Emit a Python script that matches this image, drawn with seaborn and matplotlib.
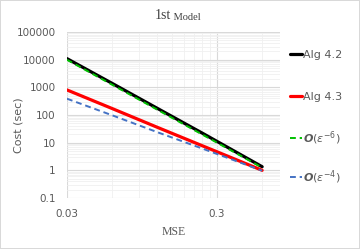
import numpy as np
import pandas as pd
import matplotlib
matplotlib.use('Agg')
import matplotlib.pyplot as plt
import matplotlib.ticker as mticker
import seaborn as sns

# values
mse = [0.03, 0.06, 0.12, 0.24, 0.6]
alg42 = [11000, 1400, 175, 22, 1.35]
alg43 = [810, 172, 36, 7.7, 1.0]
ref6 = [10000, 1250, 156, 19.5, 1.25]
ref4 = [390, 98, 24, 6.1, 0.97]

labels = ['Alg 4.2', 'Alg 4.3', r'$\mathbfit{O}(\epsilon^{-6})$', r'$\mathbfit{O}(\epsilon^{-4})$']
colors = ['black', '#ff0000', '#00c000', '#4472c4']
widths = [2.3, 2.3, 1.4, 1.4]
dashed = [False, False, True, True]

xticks = [0.03, 0.3]
yticks = [0.1, 1, 10, 100, 1000, 10000, 100000]

sns.set_style('white')
plt.rcParams['font.family'] = ['DejaVu Sans']
grey = '#595959'

fig = plt.figure(figsize=(3.6, 2.49), dpi=100, edgecolor='#d9d9d9', linewidth=1.2)
ax = fig.add_axes([0.186, 0.205, 0.592, 0.666])

series = [alg42, alg43, ref6, ref4]
for vals, lab, c, lw, d in zip(series, labels, colors, widths, dashed):
    df = pd.DataFrame({'MSE': mse, 'Cost': vals})
    sns.lineplot(data=df, x='MSE', y='Cost', ax=ax, color=c, lw=lw, label=lab,
                 linestyle=(0, (3, 2)) if d else '-')

ax.set_xscale('log')
ax.set_yscale('log')
ax.set_xlim(0.03, 0.79)
ax.set_ylim(0.1, 100000)

ax.xaxis.set_major_locator(mticker.FixedLocator(xticks))
ax.xaxis.set_major_formatter(mticker.FixedFormatter(['0.03', '0.3']))
ax.xaxis.set_minor_locator(mticker.FixedLocator([0.03 * k for k in range(2, 10)] + [0.6]))
ax.xaxis.set_minor_formatter(mticker.NullFormatter())
ax.yaxis.set_major_locator(mticker.FixedLocator(yticks))
ax.yaxis.set_major_formatter(mticker.FixedFormatter(['0.1', '1', '10', '100', '1000', '10000', '100000']))
ax.yaxis.set_minor_locator(mticker.LogLocator(base=10, subs=np.arange(2, 10)))
ax.yaxis.set_minor_formatter(mticker.NullFormatter())

ax.grid(True, which='major', color='#d9d9d9', lw=0.8)
ax.grid(True, which='minor', color='#f0f0f0', lw=0.6)
ax.set_axisbelow(True)
for s in ax.spines.values():
    s.set_visible(False)
ax.tick_params(which='both', length=0, labelsize=7.5, colors=grey)
ax.tick_params(axis='x', pad=8)
ax.tick_params(axis='y', pad=8)

ax.set_xlabel('MSE', family='Liberation Serif', fontsize=8.5, color=grey, labelpad=5)
ax.set_ylabel('Cost (sec)', fontsize=8, color=grey)
ax.yaxis.set_label_coords(-0.205, 0.44)

t1 = fig.text(0.43, 0.925, '1st', family='Liberation Serif', fontsize=10, color='#404040')
ax.annotate(' Model', xy=(1, 0), xycoords=t1, family='Liberation Serif', fontsize=7.5,
            color='#404040', va='bottom')

# one legend entry per row, spaced like the reference
ax.get_legend().remove()
handles, labs = ax.get_legend_handles_labels()
for h, l, ypix in zip(handles, labs, [55, 97, 138, 177]):
    fig.legend([h], [l], loc='center left', bbox_to_anchor=(0.79, 1 - ypix / 249),
               frameon=False, fontsize=8, labelcolor=grey, handlelength=1.1,
               handletextpad=0.05, borderpad=0)

fig.savefig('out.png', dpi=100)
